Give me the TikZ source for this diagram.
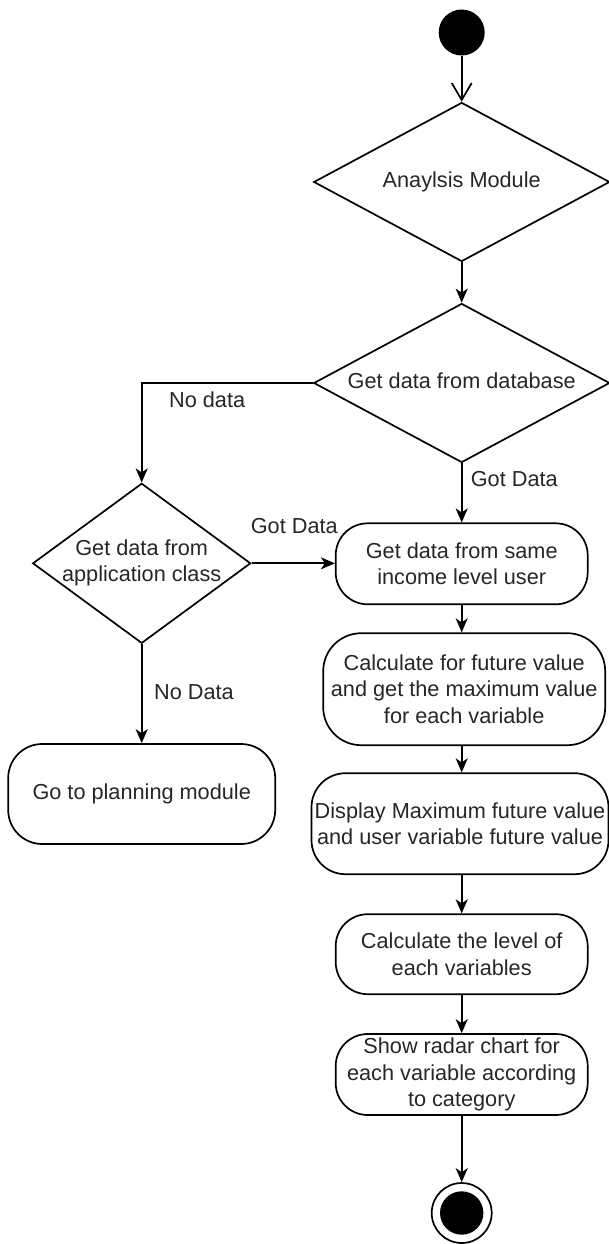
\documentclass[tikz,border=0pt]{standalone}
\usepackage{fontspec}
\setmainfont{Liberation Sans}
\usetikzlibrary{arrows.meta,shapes.geometric}
% text of a diamond, kept out of the shape's size computation
\newcommand{\dtext}[1]{\makebox[0pt]{\begin{tabular}{@{}c@{}}#1\end{tabular}}}
\begin{document}
\begin{tikzpicture}[x=1pt,y=-1pt,
  line width=1.7pt,
  every node/.style={font=\fontsize{21.7}{26.5}\selectfont, text=black!85},
  decision/.style={shape=diamond, draw, inner sep=0pt},
  action/.style={draw, rounded corners=32pt, align=center, inner sep=0pt},
  flow/.style={-{Stealth[length=14pt,width=12pt,inset=4pt]}},
  openflow/.style={-{Straight Barb[length=17pt,width=20pt]}},
  guard/.style={anchor=west, inner sep=0pt}
]
\useasboundingbox (0,0) rectangle (609,1244);

% start and end of the activity
\node[circle, fill=black, minimum size=46pt, inner sep=0pt] (start) at (461.7,32.5) {};
\node[circle, draw, minimum size=60pt, inner sep=0pt,
      path picture={\fill[black] (path picture bounding box.center) circle (21.7pt);}]
      (finish) at (461.7,1213) {};

% decisions
\node[decision, minimum width=296pt, minimum height=159pt] (analysis) at (461.7,182)
  {\dtext{Anaylsis Module}};
\node[decision, minimum width=296pt, minimum height=159pt] (database) at (461.7,383)
  {\dtext{Get data from database}};
\node[decision, minimum width=218pt, minimum height=160pt] (appclass) at (141.7,563.3)
  {\dtext{Get data from\\application class}};

% actions
\node[action, minimum width=252pt, minimum height=81pt] (sameincome) at (461.7,563.8)
  {Get data from same\\income level user};
\node[action, rounded corners=38pt, minimum width=282pt, minimum height=112pt] (future) at (464.2,689.2)
  {Calculate for future value\\and get the maximum value\\for each variable};
\node[action, rounded corners=34pt, minimum width=297pt, minimum height=101pt] (display) at (460,823.7)
  {Display Maximum future value\\and user variable future value};
\node[action, minimum width=252pt, minimum height=80pt] (level) at (461.7,954.2)
  {Calculate the level of\\each variables};
\node[action, minimum width=252pt, minimum height=81pt] (radar) at (461.7,1074.5)
  {Show radar chart for\\each variable according\\to category};
\node[action, rounded corners=34pt, minimum width=267pt, minimum height=100pt] (planning) at (141.7,794)
  {Go to planning module};

% guard labels
\node[guard] (nodata1) at (168.3,399.3) {No data};
\node[guard] (gotdata1) at (470,479.3) {Got Data};
\node[guard] (gotdata2) at (250,525.7) {Got Data};
\node[guard] (nodata2) at (153.3,691.7) {No Data};

% control flow
\draw[openflow] (start.south) -- (analysis.north);
\draw[flow] (analysis.south) -- (database.north);
\draw[flow] (database.west) -| (appclass.north);
\draw[flow] (database.south) -- (sameincome.north);
\draw[flow] (appclass.east) -- (appclass.east -| sameincome.west);
\draw[flow] (appclass.south) -- (planning.north);
\draw[flow] (sameincome.south) -- (sameincome.south |- future.north);
\draw[flow] (future.south -| sameincome.south) -- (display.north -| sameincome.south);
\draw[flow] (display.south -| level.north) -- (level.north);
\draw[flow] (level.south) -- (radar.north);
\draw[flow] (radar.south) -- (finish.north);
\end{tikzpicture}
\end{document}
